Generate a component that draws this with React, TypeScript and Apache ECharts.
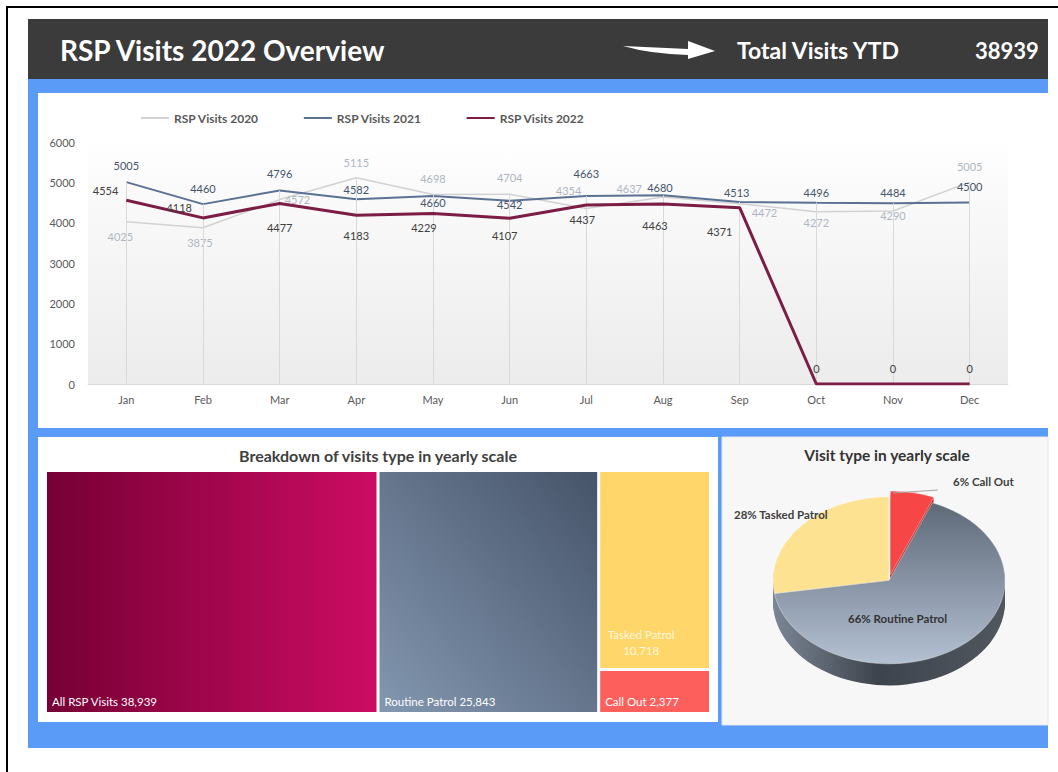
import React, { useEffect, useRef } from 'react';
import * as echarts from 'echarts';

// ---------- data ----------
const MONTHS = ['Jan', 'Feb', 'Mar', 'Apr', 'May', 'Jun', 'Jul', 'Aug', 'Sep', 'Oct', 'Nov', 'Dec'];
const VISITS_2020 = [4025, 3875, 4572, 5115, 4698, 4704, 4354, 4637, 4472, 4272, 4290, 5005];
const VISITS_2021 = [5005, 4460, 4796, 4582, 4660, 4542, 4663, 4680, 4513, 4496, 4484, 4500];
const VISITS_2022 = [4554, 4118, 4477, 4183, 4229, 4107, 4437, 4463, 4371, 0, 0, 0];
const SERIES_NAMES = ['RSP Visits 2020', 'RSP Visits 2021', 'RSP Visits 2022'];
const Y_MIN = 0;
const Y_MAX = 6000;
const Y_STEP = 1000;

const TREE_NAMES = ['All RSP Visits', 'Routine Patrol', 'Tasked Patrol', 'Call Out'];
const TREE_VALUES = [38939, 25843, 10718, 2377];

const PIE_NAMES = ['Call Out', 'Routine Patrol', 'Tasked Patrol'];
const PIE_VALUES = [2377, 25843, 10718];

const TOTAL_YTD = 38939;
const DASH_TITLE = 'RSP Visits 2022 Overview';
const TOTAL_LABEL = 'Total Visits YTD';
const TREE_TITLE = 'Breakdown of visits type in yearly scale';
const PIE_TITLE = 'Visit type in yearly scale';

// ---------- label placement (style) ----------
const POS_2020 = ['bottom', 'bottom', 'right', 'top', 'top', 'top', 'left', 'left', 'right', 'bottom', 'bottom', 'top'];
const OFF_2020 = [[-6, 4], [-3, 4], [0, 0], [0, -5], [0, -6], [0, -6], [0, -18], [-16, -8], [7, 9], [0, 0], [0, -6], [0, -5]];
const POS_2021 = ['top', 'top', 'top', 'top', 'bottom', 'bottom', 'top', 'top', 'top', 'top', 'top', 'top'];
const OFF_2021 = [[0, -6], [0, -5], [0, -7], [0, 1], [0, -4], [0, -7], [0, -12], [-3, 3], [-3, 1], [0, 0], [0, 0], [0, -5]];
const POS_2022 = ['left', 'left', 'bottom', 'bottom', 'bottom', 'bottom', 'bottom', 'bottom', 'bottom', 'top', 'top', 'top'];
const OFF_2022 = [[-3, -10], [-6, -10], [0, 14], [0, 10], [-9, 4], [-5, 7], [-4, 4], [-8, 11], [-20, 13], [0, -5], [0, -5], [0, -5]];

const ARROW_D = 'M0 5 L65 8 L65 0 L92 10 L65 18 L65 14 Q28 13 0 5 Z';
const F = 'Lato, "Open Sans", sans-serif';

const fmt = (v: number) => v.toLocaleString('en-US');

export default function App() {
  const mainRef = useRef<HTMLDivElement>(null);
  const pieRef = useRef<HTMLDivElement>(null);
  const labRef = useRef<HTMLDivElement>(null);

  useEffect(() => {
    try {
      echarts.graphic.registerShape('dashArrow', echarts.graphic.extendPath(ARROW_D, {}) as any);
    } catch (e) {
      /* already registered */
    }
    const main = echarts.init(mainRef.current!, null, { renderer: 'svg' });
    const pie = echarts.init(pieRef.current!, null, { renderer: 'svg' });
    const lab = echarts.init(labRef.current!, null, { renderer: 'svg' });

    const withLabels = (vals: number[], pos: string[], off: number[][]) =>
      vals.map((v, i) => ({ value: v, label: { position: pos[i], offset: off[i] } }));

    const dropLines = (vals: number[]) => ({
      silent: true,
      symbol: ['none', 'none'],
      label: { show: false },
      emphasis: { disabled: true },
      lineStyle: { color: '#d9d9d9', width: 1, type: 'solid' },
      data: vals.map((v, i) => [{ coord: [i, 0] }, { coord: [i, v] }]),
    });

    const lineSeries = (name: string, vals: number[], pos: string[], off: number[][], lineColor: string, width: number, labelColor: string, z: number) => ({
      type: 'line',
      name,
      data: withLabels(vals, pos, off),
      symbol: 'circle',
      symbolSize: 0.01,
      itemStyle: { color: lineColor },
      lineStyle: { color: lineColor, width },
      label: { show: true, color: labelColor, fontSize: 11, fontFamily: F, distance: 5 },
      emphasis: { disabled: true },
      silent: true,
      z,
      markLine: dropLines(vals),
    });

    const plotBg = new echarts.graphic.LinearGradient(0, 0, 0, 1, [
      { offset: 0, color: '#ffffff' },
      { offset: 0.15, color: '#fbfbfb' },
      { offset: 1, color: '#ececec' },
    ]);

    const treeColors = [
      new echarts.graphic.LinearGradient(0, 0, 1, 0, [
        { offset: 0, color: '#760035' },
        { offset: 1, color: '#cc0c63' },
      ]),
      new echarts.graphic.LinearGradient(0, 1, 1, 0, [
        { offset: 0, color: '#8397b0' },
        { offset: 1, color: '#465469' },
      ]),
      '#fed66a',
      '#fd5f5c',
    ];

    const treeData = TREE_NAMES.map((n, i) => {
      const item: any = { name: n, value: TREE_VALUES[i], itemStyle: { color: treeColors[i] } };
      if (n === 'Tasked Patrol') {
        item.label = {
          position: [36, 159],
          align: 'center',
          lineHeight: 16,
          color: '#fff8dc',
          formatter: (p: any) => `${p.name}\n${fmt(p.value)}`,
        };
      }
      return item;
    });

    main.setOption({
      animation: false,
      textStyle: { fontFamily: F },
      graphic: [
        { type: 'rect', z: -10, shape: { x: 7, y: 7, width: 1100, height: 800 }, style: { fill: '#ffffff', stroke: '#000000', lineWidth: 2 } },
        { type: 'rect', z: -9, shape: { x: 28, y: 19, width: 1020, height: 60 }, style: { fill: '#3b3b3b' } },
        { type: 'rect', z: -9, shape: { x: 28, y: 79, width: 1020, height: 669 }, style: { fill: '#5b9bf8' } },
        { type: 'rect', z: -8, shape: { x: 38, y: 93, width: 1010, height: 335 }, style: { fill: '#ffffff' } },
        { type: 'rect', z: -8, shape: { x: 38, y: 437, width: 680, height: 285 }, style: { fill: '#ffffff' } },
        { type: 'rect', z: -8, shape: { x: 722, y: 437, width: 326, height: 288 }, style: { fill: '#f7f7f7', stroke: '#e6e6e6', lineWidth: 1 } },
        { type: 'text', z: 10, x: 60, y: 50, style: { text: DASH_TITLE, fill: '#ffffff', font: `bold 28px ${F}`, textVerticalAlign: 'middle' } },
        { type: 'dashArrow', z: 10, x: 623, y: 41, style: { fill: '#ffffff' } },
        { type: 'text', z: 10, x: 737, y: 50, style: { text: TOTAL_LABEL, fill: '#ffffff', font: `bold 23px ${F}`, textVerticalAlign: 'middle' } },
        { type: 'text', z: 10, x: 975, y: 50, style: { text: String(TOTAL_YTD), fill: '#ffffff', font: `bold 22px ${F}`, textVerticalAlign: 'middle' } },
        { type: 'text', z: 10, x: 378, y: 455, style: { text: TREE_TITLE, fill: '#404040', font: `bold 16px ${F}`, textAlign: 'center', textVerticalAlign: 'middle' } },
        { type: 'text', z: 10, x: 887, y: 455, style: { text: PIE_TITLE, fill: '#333333', font: `bold 15.5px ${F}`, textAlign: 'center', textVerticalAlign: 'middle' } },
      ],
      legend: {
        left: 135,
        top: 107,
        itemGap: 44,
        itemWidth: 28,
        itemHeight: 10,
        itemStyle: { opacity: 0 },
        textStyle: { color: '#595959', fontWeight: 'bold', fontSize: 12, fontFamily: F },
        data: SERIES_NAMES,
        selectedMode: false,
      },
      grid: { left: 88, top: 142, width: 920, height: 242, show: true, backgroundColor: plotBg, borderWidth: 0, z: 1 },
      xAxis: {
        type: 'category',
        data: MONTHS,
        boundaryGap: true,
        axisTick: { show: false },
        axisLine: { lineStyle: { color: '#d9d9d9' } },
        axisLabel: { color: '#595959', fontSize: 11, fontFamily: F, margin: 10 },
        splitLine: { show: false },
      },
      yAxis: {
        type: 'value',
        min: Y_MIN,
        max: Y_MAX,
        interval: Y_STEP,
        axisLine: { show: false },
        axisTick: { show: false },
        splitLine: { show: false },
        axisLabel: { color: '#595959', fontSize: 11, fontFamily: F, margin: 13, formatter: (v: number) => String(v) },
      },
      series: [
        lineSeries(SERIES_NAMES[0], VISITS_2020, POS_2020, OFF_2020, '#d2d2d2', 1.5, '#aeb6c2', 3),
        lineSeries(SERIES_NAMES[1], VISITS_2021, POS_2021, OFF_2021, '#5a7194', 2, '#44546a', 4),
        lineSeries(SERIES_NAMES[2], VISITS_2022, POS_2022, OFF_2022, '#7b1d44', 3, '#404040', 5),
        {
          type: 'treemap',
          left: 47,
          top: 472,
          width: 662,
          height: 240,
          roam: false,
          nodeClick: false,
          silent: true,
          sort: false,
          breadcrumb: { show: false },
          levels: [
            { itemStyle: { gapWidth: 3, borderWidth: 0, borderColor: '#ffffff' } },
            { itemStyle: { gapWidth: 0, borderWidth: 0 } },
          ],
          label: {
            show: true,
            position: 'insideBottomLeft',
            color: '#ffffff',
            fontSize: 11.5,
            fontFamily: F,
            distance: 0,
            padding: 0,
            offset: [5, -5],
            formatter: (p: any) => `${p.name} ${fmt(p.value)}`,
          },
          upperLabel: { show: false },
          data: treeData,
        },
      ],
    });

    // ---------- pie (drawn in a vertically squashed layer for the tilted look) ----------
    const CX = 167;
    const CY = 199;
    const R = 116;
    const DEPTH = 30;
    const sideGrad = new echarts.graphic.LinearGradient(CX - R, 0, CX + R, 0, [
      { offset: 0, color: '#7b8695' },
      { offset: 0.45, color: '#3e444d' },
      { offset: 1, color: '#50575f' },
    ], true);
    const routineGrad = new echarts.graphic.LinearGradient(0, CY - R, 0, CY + R, [
      { offset: 0, color: '#5b6675' },
      { offset: 1, color: '#b4c1d3' },
    ], true);
    const pieColors = ['#f64646', routineGrad, '#fde291'];

    const pieSeries: any[] = [];
    for (let k = DEPTH; k >= 2; k -= 2) {
      pieSeries.push({
        type: 'pie',
        center: [CX, CY + k],
        radius: R,
        startAngle: 90,
        clockwise: true,
        silent: true,
        selectedMode: 'single',
        selectedOffset: 8,
        label: { show: false },
        labelLine: { show: false },
        emphasis: { disabled: true },
        itemStyle: { color: sideGrad },
        z: 1,
        data: PIE_NAMES.map((n, i) => ({ name: n, value: PIE_VALUES[i], selected: i === 0, itemStyle: { color: i === 0 ? '#b83232' : sideGrad } })),
      });
    }
    pieSeries.push({
      type: 'pie',
      center: [CX, CY],
      radius: R,
      startAngle: 90,
      clockwise: true,
      silent: true,
      selectedMode: 'single',
      selectedOffset: 8,
      label: { show: false },
      labelLine: { show: false },
      emphasis: { disabled: true },
      itemStyle: { borderColor: 'rgba(255,255,255,0.7)', borderWidth: 0.6 },
      z: 3,
      data: PIE_NAMES.map((n, i) => ({ name: n, value: PIE_VALUES[i], selected: i === 0, itemStyle: { color: pieColors[i] } })),
    });
    pie.setOption({ animation: false, series: pieSeries });

    // ---------- pie labels (unsquashed overlay) ----------
    const pieTotal = PIE_VALUES.reduce((a, b) => a + b, 0);
    const pct = (i: number) => `${Math.round((PIE_VALUES[i] / pieTotal) * 100)}% ${PIE_NAMES[i]}`;
    lab.setOption({
      animation: false,
      graphic: [
        { type: 'line', shape: { x1: 171, y1: 56, x2: 216, y2: 53 }, style: { stroke: '#a6a6a6', lineWidth: 1 } },
        { type: 'text', x: 231, y: 44, style: { text: pct(0), fill: '#404040', font: `bold 11.5px ${F}`, textVerticalAlign: 'middle' } },
        { type: 'text', x: 12, y: 77, style: { text: pct(2), fill: '#404040', font: `bold 11.5px ${F}`, textVerticalAlign: 'middle' } },
        { type: 'text', x: 126, y: 181, style: { text: pct(1), fill: '#333333', font: `bold 11.5px ${F}`, textVerticalAlign: 'middle' } },
      ],
    });

    return () => {
      main.dispose();
      pie.dispose();
      lab.dispose();
    };
  }, []);

  return (
    <div style={{ position: 'absolute', left: 0, top: 0, width: 1058, height: 772, overflow: 'hidden', background: '#ffffff' }}>
      <div ref={mainRef} style={{ position: 'absolute', left: 0, top: 0, width: 1058, height: 772 }} />
      <div ref={pieRef} style={{ position: 'absolute', left: 722, top: 437, width: 326, height: 400, transform: 'scaleY(0.72)', transformOrigin: '0 0' }} />
      <div ref={labRef} style={{ position: 'absolute', left: 722, top: 437, width: 326, height: 288 }} />
    </div>
  );
}
